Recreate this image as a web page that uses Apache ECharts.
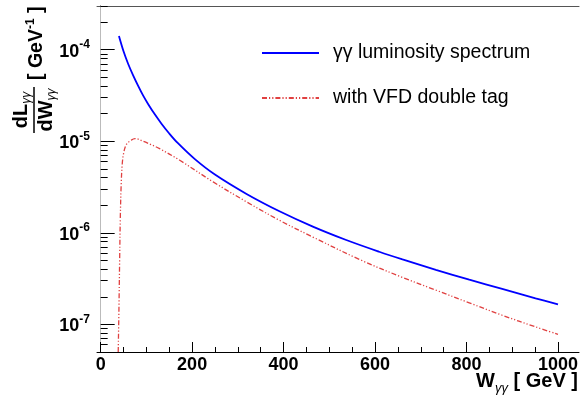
<!DOCTYPE html>
<html><head><meta charset="utf-8">
<script src="https://cdn.jsdelivr.net/npm/echarts@6/dist/echarts.min.js"></script>
<style>html,body{margin:0;padding:0;background:#fff}#c{width:581px;height:397px}</style>
</head><body><div id="c"></div><script>
// ---- data ----
const seriesNames = ['γγ luminosity spectrum', 'with VFD double tag'];
const wLumi = [40, 50, 60, 71, 82, 93, 104, 118, 133, 150, 169, 206, 249, 319, 391, 464, 537, 609, 660, 733, 806, 878, 951, 1000];
const vLumi = [1.41e-4, 9.6e-5, 7.03e-5, 5.25e-5, 4.03e-5, 3.15e-5, 2.54e-5, 1.98e-5, 1.556e-5, 1.216e-5, 9.52e-6, 6.38e-6, 4.36e-6, 2.66e-6, 1.72e-6, 1.17e-6, 8.35e-7, 6.22e-7, 5.13e-7, 3.95e-7, 3.08e-7, 2.44e-7, 1.93e-7, 1.66e-7];
const wTag = [38.4, 40, 41.5, 43, 45, 47, 50, 56, 67, 75, 93, 110, 129, 173, 246, 319, 391, 464, 566, 660, 733, 806, 878, 951, 1000];
const vTag = [5e-8, 1.5e-7, 5e-7, 1.5e-6, 3.5e-6, 5.5e-6, 7.3e-6, 9.2e-6, 1.03e-5, 1.07e-5, 1.0e-5, 9.2e-6, 8.3e-6, 6.2e-6, 3.6e-6, 2.18e-6, 1.37e-6, 9.0e-7, 5.12e-7, 3.26e-7, 2.37e-7, 1.72e-7, 1.26e-7, 9.4e-8, 7.8e-8];
const xMajorTicks = [0, 200, 400, 600, 800, 1000];
const xMinorTicks = [0, 50, 100, 150, 200, 250, 300, 350, 400, 450, 500, 550, 600, 650, 700, 750, 800, 850, 900, 950, 1000];
const yDecades = [1e-7, 1e-6, 1e-5, 1e-4];
const yMinorTicks = [5e-8, 6e-8, 7e-8, 8e-8, 9e-8, 2e-7, 3e-7, 4e-7, 5e-7, 6e-7, 7e-7, 8e-7, 9e-7, 2e-6, 3e-6, 4e-6, 5e-6, 6e-6, 7e-6, 8e-6, 9e-6, 2e-5, 3e-5, 4e-5, 5e-5, 6e-5, 7e-5, 8e-5, 9e-5, 2e-4, 3e-4];
const xRange = [-8, 1046];
const yRange = [5e-8, 3e-4];

// ---- build ----
const L = v => Math.log10(v);
const yMin = L(yRange[0]), yMax = L(yRange[1]);
const FONT = 'Liberation Sans';
const pairs = (w, v) => w.map((x, i) => [x, L(v[i])]);

const chart = echarts.init(document.getElementById('c'), null, {renderer: 'canvas'});
const noShow = {show: false};
const xBase = {type: 'value', min: xRange[0], max: xRange[1], splitLine: noShow, gridIndex: 0};
const yBase = {type: 'value', min: yMin, max: yMax, splitLine: noShow, gridIndex: 0};

chart.setOption({
  animation: false,
  backgroundColor: '#fff',
  grid: {left: 97, right: 1, top: 6, bottom: 45, containLabel: false},
  xAxis: [
    Object.assign({}, xBase, {
      position: 'bottom',
      axisLine: {show: true, lineStyle: {color: '#000', width: 1}},
      axisTick: {show: true, inside: true, length: 10, customValues: xMajorTicks, lineStyle: {color: '#000', width: 1}},
      axisLabel: {show: true, customValues: xMajorTicks, margin: 4, formatter: v => String(v), color: '#000', fontFamily: FONT, fontWeight: 'bold', fontSize: 18}
    }),
    Object.assign({}, xBase, {
      position: 'bottom',
      axisLine: noShow,
      axisTick: {show: true, inside: true, length: 5, customValues: xMinorTicks, lineStyle: {color: '#000', width: 1}},
      axisLabel: noShow
    }),
    Object.assign({}, xBase, {
      position: 'top',
      axisLine: {show: true, lineStyle: {color: '#555', width: 1}},
      axisTick: noShow, axisLabel: noShow
    })
  ],
  yAxis: [
    Object.assign({}, yBase, {
      position: 'left',
      axisLine: {show: true, lineStyle: {color: '#000', width: 1}},
      axisTick: {show: true, inside: true, length: 14, customValues: yDecades.map(L), lineStyle: {color: '#000', width: 1}},
      axisLabel: {
        show: true, customValues: yDecades.map(L), margin: 7,
        formatter: v => '{b|10}{s|' + Math.round(v) + '}',
        rich: {
          b: {fontFamily: FONT, fontWeight: 'bold', fontSize: 18, color: '#000', lineHeight: 22, verticalAlign: 'bottom'},
          s: {fontFamily: FONT, fontWeight: 'bold', fontSize: 12, color: '#000', lineHeight: 12, verticalAlign: 'top'}
        }
      }
    }),
    Object.assign({}, yBase, {
      position: 'left',
      axisLine: noShow,
      axisTick: {show: true, inside: true, length: 7, customValues: yMinorTicks.map(L), lineStyle: {color: '#000', width: 1}},
      axisLabel: noShow
    }),
    Object.assign({}, yBase, {
      position: 'right',
      axisLine: {show: true, lineStyle: {color: '#bbb', width: 1}},
      axisTick: noShow, axisLabel: noShow
    })
  ],
  legend: {
    orient: 'vertical', left: 256, top: 38, itemGap: 25,
    itemWidth: 57, itemHeight: 14,
    itemStyle: {opacity: 0},
    textStyle: {fontFamily: FONT, fontSize: 19.5, color: '#000', padding: [0, 0, 0, 9]},
    data: seriesNames
  },
  series: [
    {
      name: seriesNames[0], type: 'line', xAxisIndex: 0, yAxisIndex: 0,
      data: pairs(wLumi, vLumi), symbol: 'none', showSymbol: false, smooth: 0.35, clip: true,
      lineStyle: {color: '#0000ff', width: 1.8}, itemStyle: {color: '#0000ff'}
    },
    {
      name: seriesNames[1], type: 'line', xAxisIndex: 0, yAxisIndex: 0,
      data: pairs(wTag, vTag), symbol: 'none', showSymbol: false, smooth: 0.35, clip: true,
      lineStyle: {color: '#e04040', width: 1.3, type: [5, 2, 1.2, 2, 1.2, 2]}, itemStyle: {color: '#e04040'}
    }
  ],
  graphic: [
    {
      type: 'text', right: 3, top: 371,
      style: {
        text: '{m|W}{s|γγ}{m| [ GeV ]}',
        rich: {
          m: {fontFamily: FONT, fontWeight: 'bold', fontSize: 20, fill: '#000', lineHeight: 24, verticalAlign: 'top'},
          s: {fontFamily: FONT, fontStyle: 'italic', fontSize: 13, fill: '#000', lineHeight: 13, verticalAlign: 'bottom'}
        }
      }
    },
    {
      type: 'group', x: 34, y: 133, rotation: Math.PI / 2,
      children: [
        {type: 'line', shape: {x1: 0, y1: 0, x2: 46, y2: 0}, style: {stroke: '#000', lineWidth: 1.5}},
        {
          type: 'text', x: 23, y: -1,
          style: {
            text: '{m|dL}{s|γγ}', align: 'center', verticalAlign: 'bottom',
            rich: {
              m: {fontFamily: FONT, fontWeight: 'bold', fontSize: 20, fill: '#000', lineHeight: 22, verticalAlign: 'top'},
              s: {fontFamily: FONT, fontStyle: 'italic', fontSize: 12, fill: '#000', lineHeight: 12, verticalAlign: 'bottom'}
            }
          }
        },
        {
          type: 'text', x: 23, y: 2,
          style: {
            text: '{m|dW}{s|γγ}', align: 'center', verticalAlign: 'top',
            rich: {
              m: {fontFamily: FONT, fontWeight: 'bold', fontSize: 20, fill: '#000', lineHeight: 22, verticalAlign: 'top'},
              s: {fontFamily: FONT, fontStyle: 'italic', fontSize: 12, fill: '#000', lineHeight: 12, verticalAlign: 'bottom'}
            }
          }
        },
        {
          type: 'text', x: 53, y: 2,
          style: {
            text: '{m|[ GeV}{s|-1}{m| ]}', align: 'left', verticalAlign: 'middle',
            rich: {
              m: {fontFamily: FONT, fontWeight: 'bold', fontSize: 19.5, fill: '#000', lineHeight: 22, verticalAlign: 'bottom'},
              s: {fontFamily: FONT, fontWeight: 'bold', fontSize: 12, fill: '#000', lineHeight: 12, verticalAlign: 'top'}
            }
          }
        }
      ]
    }
  ]
});
</script></body></html>
